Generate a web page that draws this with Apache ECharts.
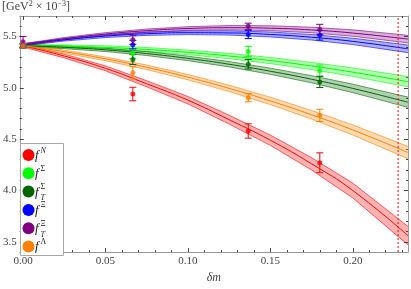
<!DOCTYPE html>
<html><head><meta charset="utf-8">
<script src="https://cdn.jsdelivr.net/npm/echarts@6/dist/echarts.min.js"></script>
<style>html,body{margin:0;padding:0;background:#fff}#c{width:411px;height:289px}</style>
</head><body><div id="c"></div><script>
// axis ranges and ticks
const X_MIN = -0.002, X_MAX = 0.2335, Y_MIN = 3.4, Y_MAX = 5.7;
const xMajor = [0, 0.05, 0.10, 0.15, 0.20];
const xMinor = [0.01,0.02,0.03,0.04,0.06,0.07,0.08,0.09,0.11,0.12,0.13,0.14,0.16,0.17,0.18,0.19,0.21,0.22,0.23];
const yMajor = [3.5, 4.0, 4.5, 5.0, 5.5];
const yMinor = [3.6,3.7,3.8,3.9,4.1,4.2,4.3,4.4,4.6,4.7,4.8,4.9,5.1,5.2,5.3,5.4,5.6];
const cutoff = 0.2275;

// fitted curves (centre) and half-widths of the bands
const fitX    = [0, 0.025, 0.05, 0.075, 0.1, 0.125, 0.15, 0.175, 0.2, 0.2335];
const fitN    = [5.41, 5.31, 5.19, 5.04, 4.88, 4.69, 4.49, 4.26, 4.00, 3.56];
const bandN   = [0.012, 0.018, 0.024, 0.03, 0.036, 0.043, 0.05, 0.06, 0.072, 0.09];
const fitS    = [5.41, 5.406, 5.394, 5.374, 5.346, 5.31, 5.266, 5.213, 5.153, 5.06];
const bandS   = [0.01, 0.013, 0.016, 0.019, 0.022, 0.026, 0.03, 0.035, 0.041, 0.05];
const fitST   = [5.41, 5.395, 5.37, 5.334, 5.287, 5.23, 5.162, 5.084, 4.995, 4.86];
const bandST  = [0.01, 0.013, 0.016, 0.019, 0.022, 0.026, 0.03, 0.035, 0.041, 0.05];
const fitXi   = [5.42, 5.468, 5.504, 5.527, 5.537, 5.535, 5.52, 5.493, 5.453, 5.38];
const bandXi  = [0.01, 0.012, 0.014, 0.016, 0.018, 0.021, 0.024, 0.027, 0.031, 0.037];
const fitXiT  = [5.42, 5.478, 5.524, 5.557, 5.578, 5.586, 5.581, 5.564, 5.534, 5.475];
const bandXiT = [0.01, 0.012, 0.014, 0.016, 0.018, 0.021, 0.024, 0.027, 0.031, 0.037];
const fitL    = [5.41, 5.353, 5.283, 5.20, 5.104, 4.995, 4.873, 4.738, 4.59, 4.37];
const bandL   = [0.01, 0.014, 0.018, 0.022, 0.026, 0.031, 0.036, 0.042, 0.049, 0.06];

// lattice points with errors
const ptX    = [0, 0.0666, 0.1366, 0.180];
const ptN    = [5.41, 4.94, 4.58, 4.27];
const errN   = [0.02, 0.066, 0.07, 0.097];
const ptS    = [5.41, 5.334, 5.355, 5.167];
const errS   = [0.02, 0.05, 0.05, 0.055];
const ptST   = [5.41, 5.277, 5.23, 5.058];
const errST  = [0.02, 0.05, 0.047, 0.055];
const ptXi   = [5.41, 5.421, 5.52, 5.512];
const errXi  = [0.02, 0.042, 0.04, 0.047];
const ptXiT  = [5.45, 5.468, 5.60, 5.569];
const errXiT = [0.05, 0.044, 0.03, 0.05];
const ptL    = [5.41, 5.146, 4.904, 4.732];
const errL   = [0.02, 0.06, 0.04, 0.06];

const groups = [
  {color:'#ff0000', fit:fitN,  band:bandN,  pt:ptN,  err:errN,  sup:'N', supIt:true,  sub:''},
  {color:'#00ff00', fit:fitS,  band:bandS,  pt:ptS,  err:errS,  sup:'Σ', supIt:false, sub:''},
  {color:'#006600', fit:fitST, band:bandST, pt:ptST, err:errST, sup:'Σ', supIt:false, sub:'T'},
  {color:'#0000ff', fit:fitXi, band:bandXi, pt:ptXi, err:errXi, sup:'Ξ', supIt:false, sub:''},
  {color:'#800080', fit:fitXiT,band:bandXiT,pt:ptXiT,err:errXiT,sup:'Ξ', supIt:false, sub:'T'},
  {color:'#ff8000', fit:fitL,  band:bandL,  pt:ptL,  err:errL,  sup:'Λ', supIt:false, sub:''}
];

function rgba(hex, a) {
  const n = parseInt(hex.slice(1), 16);
  return 'rgba(' + ((n >> 16) & 255) + ',' + ((n >> 8) & 255) + ',' + (n & 255) + ',' + a + ')';
}

const FONT = 'Liberation Serif';
const series = [];
groups.forEach((g) => {
  const rows = fitX.map((x,k) => [x, g.fit[k] - g.band[k], g.fit[k] + g.band[k]]);
  series.push({type:'custom', silent:true, z:2, data: rows, encode:{x:0, y:[1,2]},
    renderItem: (params, api) => {
      if (params.dataIndex !== 0) return null;
      const up = rows.map(r => api.coord([r[0], r[2]]));
      const lo = rows.map(r => api.coord([r[0], r[1]]));
      const edge = {stroke: rgba(g.color, 0.75), lineWidth: 0.8, fill: null};
      return {type:'group', children:[
        {type:'polygon', shape:{points: up.concat(lo.slice().reverse())}, style:{fill: rgba(g.color, 0.3)}},
        {type:'polyline', shape:{points: up}, style: edge},
        {type:'polyline', shape:{points: lo}, style: edge}
      ]};
    }});
});
groups.forEach((g) => {
  series.push({type:'line', smooth:true, symbol:'none', silent:true, z:3,
    data: fitX.map((x,k) => [x, g.fit[k]]),
    lineStyle:{color: g.color, width:1}});
});
series.push({type:'line', symbol:'none', silent:true, z:4,
  data:[[cutoff, Y_MIN],[cutoff, Y_MAX]],
  lineStyle:{color:'#ff0000', type:[2,2], width:1}});
groups.forEach((g) => {
  series.push({type:'custom', z:5, silent:true,
    data: ptX.map((x,k) => [x, g.pt[k], g.err[k]]),
    encode:{x:0, y:1},
    renderItem: (params, api) => {
      const x = api.value(0), y = api.value(1), e = api.value(2);
      const t = api.coord([x, y + e]), b = api.coord([x, y - e]);
      const cw = 3.5, st = {stroke: g.color, lineWidth: 1};
      return {type:'group', children:[
        {type:'line', shape:{x1:t[0], y1:t[1], x2:b[0], y2:b[1]}, style:st},
        {type:'line', shape:{x1:t[0]-cw, y1:t[1], x2:t[0]+cw, y2:t[1]}, style:st},
        {type:'line', shape:{x1:b[0]-cw, y1:b[1], x2:b[0]+cw, y2:b[1]}, style:st}
      ]};
    }});
  series.push({type:'scatter', z:6, silent:true, symbol:'circle', symbolSize:5,
    data: ptX.map((x,k) => [x, g.pt[k]]), itemStyle:{color:g.color}});
});

function xAx(pos, ticks, len, labels, line) {
  return {type:'value', position:pos, min:X_MIN, max:X_MAX,
    name: labels ? 'δm' : '', nameLocation:'middle', nameGap:17,
    nameTextStyle:{fontFamily:FONT, fontStyle:'italic', fontSize:12, color:'#444'},
    axisLine:{show:line, onZero:false, lineStyle:{color:'#999', width:1}},
    axisTick:{show:true, inside:true, length:len, customValues:ticks, lineStyle:{color:'#444', width:1}},
    axisLabel:{show:labels, customValues:ticks, margin:4, fontFamily:FONT, fontSize:11, color:'#444',
      formatter:(v) => v.toFixed(2)},
    splitLine:{show:false}};
}
function yAx(pos, ticks, len, labels, line) {
  return {type:'value', position:pos, min:Y_MIN, max:Y_MAX,
    axisLine:{show:line, onZero:false, lineStyle:{color:'#999', width:1}},
    axisTick:{show:true, inside:true, length:len, customValues:ticks, lineStyle:{color:'#444', width:1}},
    axisLabel:{show:labels, customValues:ticks, margin:3, fontFamily:FONT, fontSize:11, color:'#444',
      formatter:(v) => v.toFixed(1)},
    splitLine:{show:false}};
}

// legend built from the groups
const legend = [{type:'rect', left:20, top:143, shape:{width:43, height:112},
  style:{fill:'#fff', stroke:'#aaa', lineWidth:1}, z:50}];
groups.forEach((g, i) => {
  const yc = 155 + i * 18.3;
  legend.push({type:'circle', shape:{cx:28.5, cy:yc, r:6}, style:{fill:g.color}, z:51});
  legend.push({type:'text', x:35, y:yc+0.5, z:51, style:{text:'f', font:'italic 13px "Liberation Serif"', fill:'#222', verticalAlign:'middle'}});
  legend.push({type:'text', x:40.5, y:yc-4.5, z:51, style:{text:g.sup, font:(g.supIt?'italic ':'') + '8px "Liberation Serif"', fill:'#222', verticalAlign:'middle'}});
  if (g.sub) legend.push({type:'text', x:40.5, y:yc+6.5, z:51, style:{text:g.sub, font:'italic 8px "Liberation Serif"', fill:'#222', verticalAlign:'middle'}});
});
legend.push({type:'text', left:2, top:0, z:51, style:{
  text:'[GeV{s|2} × 10{s|−3}]', fontFamily:FONT, fontSize:12, fill:'#444',
  rich:{s:{fontFamily:FONT, fontSize:8, fill:'#444', verticalAlign:'top', lineHeight:14}}}});

const chart = echarts.init(document.getElementById('c'), null, {renderer:'canvas'});
chart.setOption({
  animation:false,
  grid:{left:16, right:3, top:16, bottom:29, containLabel:false},
  xAxis:[xAx('bottom', xMajor, 4, true, true), xAx('bottom', xMinor, 2, false, false),
         xAx('top', xMajor, 4, false, true), xAx('top', xMinor, 2, false, false)],
  yAxis:[yAx('left', yMajor, 4, true, true), yAx('left', yMinor, 2, false, false),
         yAx('right', yMajor, 4, false, true), yAx('right', yMinor, 2, false, false)],
  series: series,
  graphic: legend
});
</script></body></html>
